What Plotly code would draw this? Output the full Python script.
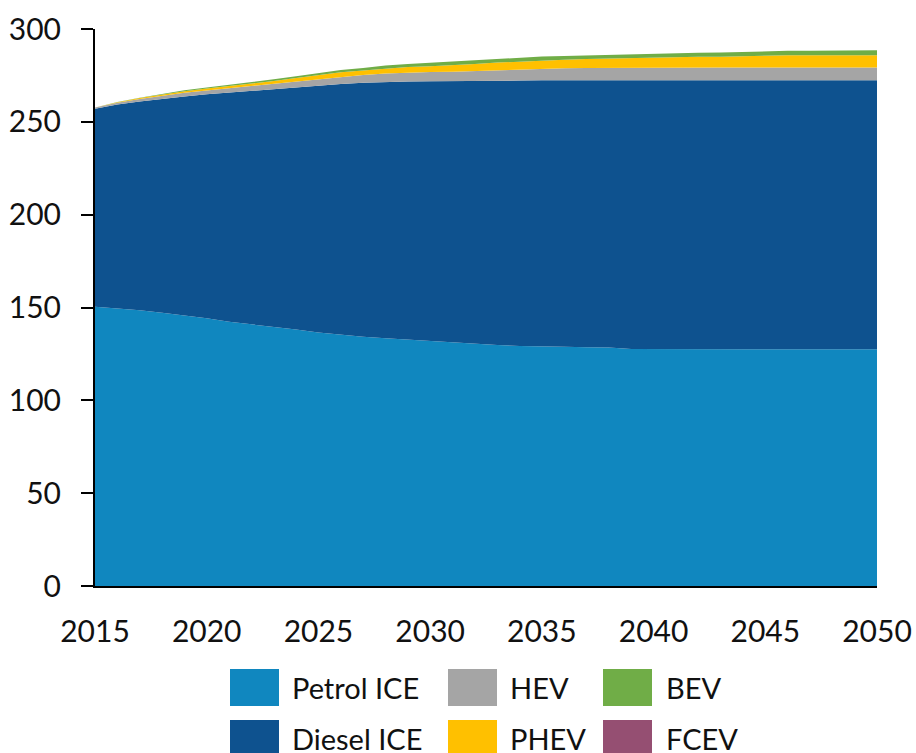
import plotly.graph_objects as go

years = list(range(2015, 2051))

petrol_ice = [150.4, 149.5, 148.5, 147.2, 145.8, 144.2, 142.3, 141.0, 139.7, 138.2,
              136.6, 135.4, 134.3, 133.5, 132.7, 131.9, 131.3, 130.7, 129.8, 129.3,
              128.9, 128.8, 128.6, 128.4, 127.6, 127.5, 127.5, 127.5, 127.5, 127.5,
              127.5, 127.5, 127.5, 127.5, 127.5, 127.5]
diesel_ice = [106.6, 109.8, 112.5, 115.3, 117.9, 120.6, 123.5, 125.6, 127.8, 130.3,
              132.9, 135.0, 136.7, 138.0, 139.0, 139.9, 140.5, 141.2, 142.3, 142.9,
              143.5, 143.6, 143.8, 144.0, 144.8, 144.9, 144.9, 144.9, 144.9, 144.9,
              144.9, 144.9, 144.9, 144.9, 144.9, 144.9]
hev = [0.7, 1.0, 1.3, 1.6, 1.9, 2.1, 2.3, 2.6, 3.0, 3.4,
       3.7, 4.0, 4.2, 4.5, 4.8, 5.0, 5.2, 5.5, 5.8, 6.1,
       6.4, 6.5, 6.6, 6.7, 6.8, 6.9, 6.9, 6.9, 6.9, 6.9,
       6.9, 6.9, 6.9, 6.9, 6.9, 6.9]
phev = [0.0, 0.3, 0.5, 0.7, 0.9, 1.0, 1.1, 1.3, 1.5, 1.7,
        2.0, 2.3, 2.5, 2.8, 3.0, 3.2, 3.5, 3.8, 4.0, 4.2,
        4.4, 4.6, 4.8, 5.0, 5.2, 5.6, 5.7, 5.8, 5.8, 6.2,
        6.5, 6.6, 6.6, 6.6, 6.6, 6.6]
bev = [0.0, 0.1, 0.2, 0.4, 0.5, 0.6, 0.7, 0.8, 0.9, 1.0,
       1.1, 1.2, 1.3, 1.5, 1.6, 1.8, 1.9, 2.0, 2.0, 2.0,
       2.0, 2.0, 2.0, 2.0, 2.0, 2.0, 2.1, 2.1, 2.2, 2.2,
       2.3, 2.4, 2.4, 2.5, 2.5, 2.6]
fcev = [0.0] * 36

series_names = ["Petrol ICE", "Diesel ICE", "HEV", "PHEV", "BEV", "FCEV"]
series_values = [petrol_ice, diesel_ice, hev, phev, bev, fcev]
colors = ["#1087BF", "#0E528F", "#A5A5A5", "#FFC000", "#70AD47", "#954F72"]

x_ticks = [2015, 2020, 2025, 2030, 2035, 2040, 2045, 2050]
y_ticks = [0, 50, 100, 150, 200, 250, 300]

FONT = "Lato, Open Sans, sans-serif"

fig = go.Figure()
for name, vals, col in zip(series_names, series_values, colors):
    fig.add_trace(go.Scatter(
        x=years, y=vals, name=name, mode="lines",
        stackgroup="one", line=dict(width=0, color=col),
        fillcolor=col, showlegend=False, hoverinfo="x+y+name",
    ))

W, H = 916, 753
L, R, T, B = 95, 39, 29, 167
pw, ph = W - L - R, H - T - B


def px_x(px):
    return (px - L) / pw


def px_y(py):
    return (H - B - py) / ph


# custom legend (big swatches like the reference)
legend_cols = [(230, 290), (448, 508), (603, 664)]
legend_rows = [(669, 706), (720, 757)]
legend_layout = [["Petrol ICE", "HEV", "BEV"], ["Diesel ICE", "PHEV", "FCEV"]]
shapes = []
annotations = []
for ri, (y0, y1) in enumerate(legend_rows):
    for ci, (sx, tx) in enumerate(legend_cols):
        name = legend_layout[ri][ci]
        col = colors[series_names.index(name)]
        shapes.append(dict(type="rect", xref="paper", yref="paper",
                           x0=px_x(sx), x1=px_x(sx + 49), y0=px_y(y1), y1=px_y(y0),
                           fillcolor=col, line=dict(width=0)))
        annotations.append(dict(text=name, xref="paper", yref="paper",
                                x=px_x(tx), y=px_y((y0 + y1) / 2),
                                xanchor="left", yanchor="middle", showarrow=False,
                                font=dict(family=FONT, size=29, color="#111111")))

fig.update_layout(
    width=W, height=H, autosize=False,
    margin=dict(l=L, r=R, t=T, b=B, pad=0, autoexpand=False),
    paper_bgcolor="white", plot_bgcolor="white",
    font=dict(family=FONT, size=30, color="#111111"),
    showlegend=False,
    shapes=shapes, annotations=annotations,
)
fig.update_xaxes(
    range=[2015, 2050], tickvals=x_ticks, ticktext=[str(v) for v in x_ticks],
    showgrid=False, zeroline=False, ticks="",
    showline=True, linecolor="black", linewidth=2,
    tickfont=dict(family=FONT, size=30, color="#111111"),
    ticklabelstandoff=18, automargin=False,
)
fig.update_yaxes(
    range=[0, 300], tickvals=y_ticks,
    showgrid=False, zeroline=False, ticks="outside", ticklen=12,
    tickwidth=2, tickcolor="black",
    showline=True, linecolor="black", linewidth=2,
    tickfont=dict(family=FONT, size=30, color="#111111"),
    ticklabelstandoff=14, automargin=False,
)

fig.write_html(
    "out.html",
    config={"displayModeBar": False},
    post_script="document.body.style.margin='0';document.body.style.overflow='hidden';",
)
